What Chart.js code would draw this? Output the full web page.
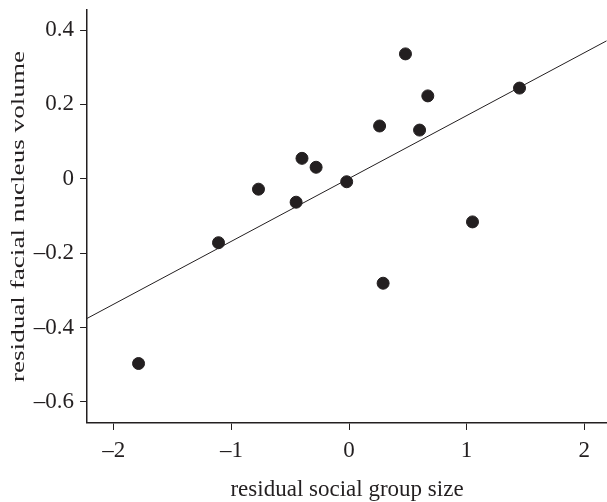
<!DOCTYPE html>
<html lang="en">
<head>
    <meta charset="UTF-8">
    <title>Facial nucleus volume vs social group size</title>
    <style>
        body { margin: 0; background: #fff; }
        #wrap { width: 607px; height: 502px; }
    </style>
</head>
<body>
    <div id="wrap"><canvas id="groupSizeChart"></canvas></div>

    <script src="https://cdn.jsdelivr.net/npm/chart.js"></script>
    <script>
        // residuals
        const groupSize = [-1.79, -1.11, -0.77, -0.45, -0.40, -0.28, -0.02, 0.26, 0.29, 0.48, 0.60, 0.67, 1.05, 1.45];
        const nucleusVolume = [-0.497, -0.172, -0.028, -0.063, 0.055, 0.031, -0.008, 0.142, -0.281, 0.336, 0.131, 0.223, -0.116, 0.244];

        // fitted line end points
        const fitX = [-2.23, 2.19];
        const fitY = [-0.376, 0.371];

        const xTicks = [-2, -1, 0, 1, 2];
        const yTicks = [-0.6, -0.4, -0.2, 0, 0.2, 0.4];

        const points = groupSize.map((x, i) => ({ x: x, y: nucleusVolume[i] }));
        const fitLine = fitX.map((x, i) => ({ x: x, y: fitY[i] }));

        function fmt(v) {
            const s = String(Math.round(v * 10) / 10);
            return s.replace('-', '\u2013');
        }

        // the y label in the figure is drawn long and narrow, stretch it along its length
        const titleStretch = 1.43;
        class StretchedLinearScale extends Chart.LinearScale {
            drawTitle() {
                const ctx = this.ctx;
                const cy = (this.top + this.bottom) / 2;
                ctx.save();
                ctx.translate(0, cy);
                ctx.scale(1, titleStretch);
                ctx.translate(0, -cy);
                super.drawTitle();
                ctx.restore();
            }
        }
        StretchedLinearScale.id = 'stretchedLinear';
        StretchedLinearScale.defaults = Chart.LinearScale.defaults;
        Chart.register(StretchedLinearScale);

        const serif = 'Liberation Serif, Times New Roman, serif';
        const ink = '#231f20';

        const config = {
            type: 'scatter',
            data: {
                datasets: [
                    {
                        data: points,
                        backgroundColor: ink,
                        borderColor: ink,
                        pointRadius: 6,
                        pointHoverRadius: 6
                    },
                    {
                        type: 'line',
                        data: fitLine,
                        borderColor: ink,
                        borderWidth: 1,
                        pointRadius: 0,
                        fill: false
                    }
                ]
            },
            options: {
                responsive: true,
                maintainAspectRatio: false,
                animation: false,
                layout: { autoPadding: false, padding: { top: 0, right: 0, left: 8, bottom: 0 } },
                plugins: {
                    legend: { display: false },
                    tooltip: { enabled: false }
                },
                scales: {
                    x: {
                        type: 'linear',
                        min: -2.228,
                        max: 2.194,
                        afterBuildTicks: s => { s.ticks = xTicks.map(v => ({ value: v })); },
                        grid: { drawOnChartArea: false, drawTicks: true, tickLength: 7, color: ink },
                        border: { color: ink, width: 1.5 },
                        ticks: {
                            color: ink,
                            padding: 7,
                            font: { family: serif, size: 23 },
                            callback: v => fmt(v)
                        },
                        title: {
                            display: true,
                            text: 'residual social group size',
                            color: ink,
                            font: { family: serif, size: 23, lineHeight: 1.04 },
                            padding: { top: 6.5, bottom: 0 }
                        }
                    },
                    y: {
                        type: 'stretchedLinear',
                        min: -0.657,
                        max: 0.454,
                        afterBuildTicks: s => { s.ticks = yTicks.map(v => ({ value: v })); },
                        grid: { drawOnChartArea: false, drawTicks: true, tickLength: 7, color: ink },
                        border: { color: ink, width: 1.5 },
                        ticks: {
                            color: ink,
                            padding: 6,
                            font: { family: serif, size: 23, lineHeight: 0.35 },
                            callback: v => fmt(v)
                        },
                        title: {
                            display: true,
                            text: 'residual facial nucleus volume',
                            color: ink,
                            font: { family: serif, size: 19 },
                            padding: { top: 0, bottom: -3 }
                        }
                    }
                }
            }
        };

        const groupSizeChart = new Chart(document.getElementById('groupSizeChart'), config);
    </script>
</body>
</html>
